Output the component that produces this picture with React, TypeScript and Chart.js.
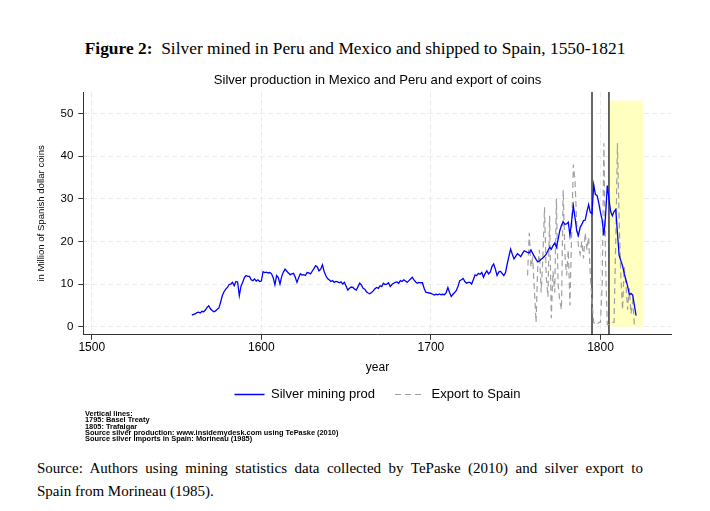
import React, { useEffect, useRef } from "react";
import { Chart, registerables } from "chart.js";

Chart.register(...registerables);

// ---------------- data ----------------
const prodStartYear = 1559;
// Silver mining production (million Spanish dollar coins), annual from 1559
const silverProd = [
  2.7,
  2.9, 3.0, 3.3, 3.4, 3.2, 3.6, 3.5, 3.9, 4.5, 4.9, // 1560s
  4.2, 3.8, 3.5, 3.7, 4.1, 4.4, 5.8, 7.3, 8.2, 8.8, // 1570s
  9.2, 9.9, 10.0, 10.4, 9.6, 10.6, 10.5, 7.3, 9.5, 10.4, // 1580s
  11.5, 12.0, 11.8, 11.8, 11.0, 10.8, 11.2, 10.7, 11.0, 10.6, // 1590s
  10.7, 12.9, 12.7, 12.8, 12.6, 12.7, 12.4, 11.5, 9.8, 12.0, // 1600s
  11.5, 10.0, 11.8, 12.8, 13.5, 13.0, 12.6, 12.2, 12.4, 12.5, // 1610s
  11.6, 10.4, 11.5, 12.4, 12.1, 12.2, 12.0, 12.7, 12.6, 12.4, // 1620s
  13.0, 13.6, 14.3, 14.0, 13.1, 13.5, 14.5, 13.0, 12.0, 11.3, // 1630s
  11.0, 10.6, 10.8, 10.4, 10.6, 10.5, 10.3, 10.5, 10.0, 10.4, // 1640s
  9.5, 8.6, 9.0, 9.3, 9.2, 8.8, 8.6, 9.4, 10.2, 9.8, // 1650s
  9.0, 8.8, 8.2, 7.9, 7.7, 8.0, 8.4, 8.9, 9.2, 9.0, // 1660s
  9.6, 9.4, 10.2, 9.9, 10.0, 10.3, 9.4, 9.9, 10.2, 10.4, // 1670s
  10.5, 10.2, 10.8, 10.6, 11.0, 10.7, 10.4, 10.8, 11.2, 11.6, // 1680s
  11.0, 10.5, 10.2, 10.4, 10.3, 10.3, 9.0, 8.1, 8.0, 7.9, // 1690s
  7.8, 7.6, 7.4, 7.6, 7.5, 7.7, 7.5, 7.6, 7.5, 8.0, // 1700s
  9.2, 8.0, 7.1, 7.6, 8.0, 8.5, 9.5, 10.8, 11.0, 11.3, // 1710s
  10.6, 10.2, 10.4, 10.4, 10.0, 11.0, 12.1, 12.0, 12.5, 12.3, // 1720s
  12.7, 11.6, 12.5, 13.1, 12.4, 12.8, 14.1, 14.7, 13.5, 12.0, // 1730s
  12.8, 13.0, 12.5, 12.0, 12.7, 14.7, 16.5, 18.2, 17.0, 15.9, // 1740s
  16.5, 17.1, 16.8, 16.4, 17.2, 17.8, 17.6, 17.4, 17.3, 18.0, // 1750s
  17.2, 16.5, 15.8, 15.2, 15.4, 15.8, 16.1, 16.5, 17.0, 17.8, // 1760s
  18.6, 18.2, 19.0, 19.6, 18.6, 20.5, 22.5, 23.8, 24.6, 24.0, // 1770s
  24.1, 24.5, 21.4, 24.8, 28.3, 25.5, 22.5, 21.4, 23.3, 24.0, // 1780s
  24.9, 25.0, 27.0, 28.6, 26.8, 26.5, 33.3, 31.0, 30.8, 29.0, // 1790s
  26.8, 25.0, 21.4, 26.0, 33.1, 30.0, 27.0, 26.0, 27.0, 27.5, // 1800s
  22.0, 16.7, 15.5, 14.3, 12.5, 11.0, 9.5, 7.5, 7.8, 7.4, // 1810s
  5.0, 2.6, // 1820-21
];

const exportStartYear = 1757;
// Silver exported to Spain, annual from 1757
const exportSpain = [
  12, 22, 14, // 1757-59
  16, 9, 1, 14, 18, 8, 16, 28, 12, 7, // 1760s
  26, 2, 13, 8, 30, 10, 6, 4, 32, 17, // 1770s
  12, 18, 5, 22, 38, 34, 24, 19, 17, 20, // 1780s
  16, 22, 18, 21, 12, 6, 1, 0.5, 0.5, 1, // 1790s
  1, 10, 43, 15, 0.5, 0.5, 0.5, 1, 1, 20, // 1800s
  43, 25, 12, 4, 14, 10, 4, 9, 3, 6, // 1810s
  0.5, // 1820
];

const xTicks = [1500, 1600, 1700, 1800];
const yTicks = [0, 10, 20, 30, 40, 50];
const refLineYears = [1795, 1805];
const shadeYears = [1805, 1825];
const shadeTop = 53;

const chartTitle = "Silver production in Mexico and Peru and export of coins";
const yAxisTitle = "in Million of Spanish dollar coins";
const xAxisTitle = "year";
const seriesNames = ["Silver mining prod", "Export to Spain"];
const noteLines = [
  "Vertical lines:",
  "1795: Basel Treaty",
  "1805: Trafalgar",
  "Source silver production: www.insidemydesk.com using TePaske (2010)",
  "Source silver imports in Spain: Morineau (1985)",
];

// ---------------- chart ----------------
const SANS = "'Liberation Sans', Arial, sans-serif";
const PROD_COLOR = "#0000ff";
const EXP_COLOR = "#a0a0a0";
const EXP_DASH = [6, 4];

const eventsPlugin = {
  id: "eventsPlugin",
  beforeDatasetsDraw(chart: any) {
    const { ctx, chartArea, scales } = chart;
    const x = scales.x;
    const y = scales.y;
    ctx.save();
    const x0 = x.getPixelForValue(shadeYears[0]);
    const x1 = x.getPixelForValue(shadeYears[1]);
    const y0 = y.getPixelForValue(0);
    const y1 = y.getPixelForValue(shadeTop);
    ctx.fillStyle = "#ffffbf";
    ctx.fillRect(x0, y1, x1 - x0, y0 - y1);
    ctx.strokeStyle = "#000";
    ctx.lineWidth = 1.2;
    ctx.setLineDash([]);
    refLineYears.forEach((yr) => {
      const px = x.getPixelForValue(yr);
      ctx.beginPath();
      ctx.moveTo(px, chartArea.top);
      ctx.lineTo(px, chartArea.bottom);
      ctx.stroke();
    });
    ctx.restore();
  },
};

function SilverChart() {
  const ref = useRef<HTMLCanvasElement | null>(null);
  useEffect(() => {
    if (!ref.current) return;
    const prodData = silverProd.map((v, i) => ({ x: prodStartYear + i, y: v }));
    const expData = exportSpain.map((v, i) => ({ x: exportStartYear + i, y: v }));
    const gridCommon = {
      color: "#ebebeb",
      lineWidth: 1,
      drawTicks: true,
      tickLength: 5,
      tickColor: "#333",
      tickWidth: 1,
      tickBorderDash: [],
    };
    const borderCommon = { display: true, color: "#333", width: 1, dash: [5, 3] };
    const chart = new Chart(ref.current, {
      type: "line",
      data: {
        datasets: [
          {
            label: seriesNames[0],
            data: prodData,
            borderColor: PROD_COLOR,
            backgroundColor: PROD_COLOR,
            borderWidth: 1.3,
            pointRadius: 0,
            tension: 0,
          },
          {
            label: seriesNames[1],
            data: expData,
            borderColor: EXP_COLOR,
            backgroundColor: EXP_COLOR,
            borderWidth: 1.2,
            borderDash: EXP_DASH,
            pointRadius: 0,
            tension: 0,
          },
        ],
      },
      options: {
        animation: false,
        responsive: true,
        maintainAspectRatio: false,
        layout: { padding: { left: 0, right: 8.3, top: 0, bottom: 0 } },
        scales: {
          x: {
            type: "linear",
            min: 1495,
            max: 1842,
            afterBuildTicks: (s: any) => {
              s.ticks = xTicks.map((v) => ({ value: v }));
            },
            afterFit: (s: any) => {
              s.height = 33.2;
            },
            ticks: {
              color: "#000",
              font: { family: SANS, size: 12 },
              padding: 1,
              maxRotation: 0,
              autoSkip: false,
              callback: (v: any) => String(v),
            },
            grid: gridCommon,
            border: borderCommon,
            title: {
              display: true,
              text: xAxisTitle,
              color: "#000",
              font: { family: SANS, size: 12 },
              padding: { top: 0, bottom: -6.7 },
            },
          },
          y: {
            type: "linear",
            min: -1.9,
            max: 55,
            afterBuildTicks: (s: any) => {
              s.ticks = yTicks.map((v) => ({ value: v }));
            },
            afterFit: (s: any) => {
              s.width = 53.3;
            },
            ticks: {
              color: "#000",
              font: { family: SANS, size: 11.5 },
              padding: 5,
              callback: (v: any) => String(v),
            },
            grid: gridCommon,
            border: borderCommon,
            title: {
              display: true,
              text: yAxisTitle,
              color: "#000",
              font: { family: SANS, size: 9.6 },
              padding: { top: 6, bottom: 0 },
            },
          },
        },
        plugins: {
          title: {
            display: true,
            text: chartTitle,
            fullSize: false,
            color: "#000",
            font: { family: SANS, size: 13.1, weight: "normal" },
            padding: { top: 6.2, bottom: 4.2 },
          },
          legend: {
            display: true,
            position: "bottom",
            fullSize: false,
            labels: {
              usePointStyle: true,
              pointStyle: "line",
              pointStyleWidth: 30,
              padding: 20,
              color: "#000",
              font: { family: SANS, size: 13 },
              generateLabels: (c: any) =>
                c.data.datasets.map((ds: any, i: number) => ({
                  text: ds.label,
                  fillStyle: ds.borderColor,
                  strokeStyle: ds.borderColor,
                  lineWidth: ds.borderWidth,
                  lineDash: ds.borderDash || [],
                  pointStyle: "line",
                  hidden: false,
                  datasetIndex: i,
                  fontColor: "#000",
                })),
            },
          },
          tooltip: { enabled: false },
        },
      },
      plugins: [eventsPlugin],
    } as any);
    return () => chart.destroy();
  }, []);
  return <canvas ref={ref} />;
}

export default function App() {
  return (
    <div
      style={{
        position: "absolute",
        left: 0,
        top: 0,
        width: 710,
        height: 511,
        background: "#fff",
        overflow: "hidden",
        fontFamily: "'Liberation Serif', 'Times New Roman', serif",
        color: "#000",
      }}
    >
      <div
        style={{
          position: "absolute",
          left: 0,
          top: 38,
          width: 710,
          textAlign: "center",
          fontSize: 17.4,
          lineHeight: "20px",
        }}
      >
        <b>Figure 2:</b>&nbsp; Silver mined in Peru and Mexico and shipped to Spain, 1550-1821
      </div>
      <div style={{ position: "absolute", left: 30, top: 66, width: 650, height: 345 }}>
        <SilverChart />
      </div>
      <div
        style={{
          position: "absolute",
          left: 85,
          top: 411.2,
          fontFamily: SANS,
          fontWeight: "bold",
          fontSize: 7.4,
          lineHeight: "6.3px",
          whiteSpace: "pre",
        }}
      >
        {noteLines.map((l, i) => (
          <div key={i}>{l}</div>
        ))}
      </div>
      <div
        style={{
          position: "absolute",
          left: 37,
          top: 456.5,
          width: 606,
          fontSize: 15,
          lineHeight: "23px",
        }}
      >
        <div style={{ textAlign: "justify", textAlignLast: "justify" } as any}>
          Source: Authors using mining statistics data collected by TePaske (2010) and silver export to
        </div>
        <div>Spain from Morineau (1985).</div>
      </div>
    </div>
  );
}
